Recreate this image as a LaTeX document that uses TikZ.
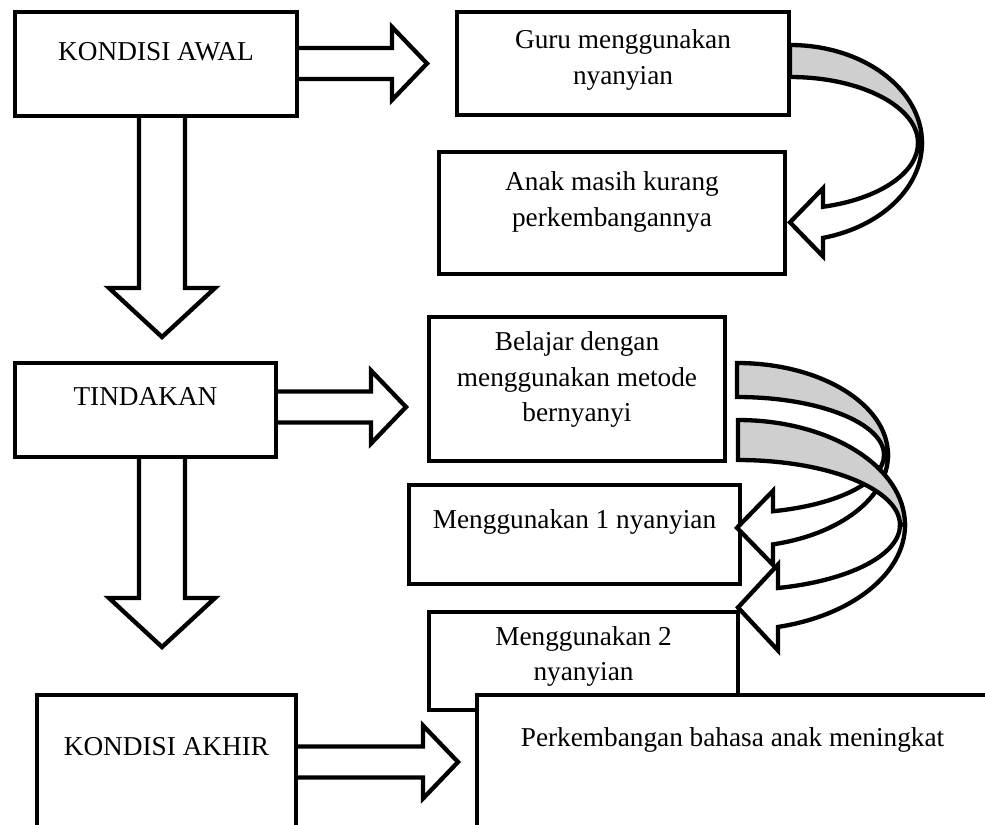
\documentclass[tikz,border=0pt]{standalone}
\usepackage{fontspec}
\setmainfont{Liberation Serif}
\usetikzlibrary{calc}

\def\px{0.44pt}
\definecolor{bandgray}{gray}{0.81}

\tikzset{
  box/.style 2 args={draw, line width=1.9pt, fill=white, minimum width=#1*\px, minimum height=#2*\px, inner sep=0pt},
  lbl/.style={anchor=center, align=center, inner sep=0pt, font=\fontsize{12}{15.6}\selectfont},
  blk/.style={draw, line width=1.9pt, fill=white},
  band/.style={draw, line width=1.9pt, fill=bandgray},
}

% block arrows: from a box to a tip coordinate
\newcommand{\rblock}[2]{%
  \draw[blk] ($(#1.east |- #2)+(0,-15.5)$) -- ($(#2)+(-35,-15.5)$) -- ($(#2)+(-35,-36.5)$) -- (#2)
    -- ($(#2)+(-35,36.5)$) -- ($(#2)+(-35,15.5)$) -- ($(#1.east |- #2)+(0,15.5)$);}
\newcommand{\dblock}[2]{%
  \draw[blk] ($(#1.south -| #2)+(-23,0)$) -- ($(#2)+(-23,-49)$) -- ($(#2)+(-53,-49)$) -- (#2)
    -- ($(#2)+(53,-49)$) -- ($(#2)+(23,-49)$) -- ($(#1.south -| #2)+(23,0)$);}
% curved arrow: centre, outer radii, inner radii, head length, head half width
\newcommand{\curvedarrow}[7]{%
  \pgfmathsetmacro{\angout}{acos(#6/#2)}%
  \pgfmathsetmacro{\angin}{acos(#6/#4)}%
  \pgfmathsetmacro{\yout}{#3*sin(\angout)}%
  \pgfmathsetmacro{\ymid}{(\yout+#5*sin(\angin))/2}%
  \draw[band] ($(#1)+(0,-#3)$) arc[start angle=-90, end angle=0, x radius=#2, y radius=#3]
    -- ($(#1)+(#4,0)$) arc[start angle=0, end angle=-90, x radius=#4, y radius=#5] -- cycle;
  \draw[blk] ($(#1)+(#4,0)$) arc[start angle=0, end angle=\angin, x radius=#4, y radius=#5]
    -- ($(#1)+({#6},{\ymid-#7})$) -- ($(#1)+(0,\ymid)$) -- ($(#1)+({#6},{\ymid+#7})$)
    -- ($(#1)+({#6},\yout)$) arc[start angle=\angout, end angle=0, x radius=#2, y radius=#3] -- cycle;}

\begin{document}
\begin{tikzpicture}[x=0.44pt, y=-0.44pt]
    \useasboundingbox (0,0) rectangle (985,824);
    \clip (0,0) rectangle (985,824);

    \node[box={282}{104}, label={[lbl,yshift=-42*\px]north:KONDISI AWAL}] (awal) at (156,64) {};
    \node[box={332}{103}, label={[lbl,yshift=-50*\px]north:Guru menggunakan\\nyanyian}] (guru) at (623,63.5) {};
    \node[box={346}{122}, label={[lbl,yshift=-52*\px]north:Anak masih kurang\\perkembangannya}] (anak) at (612,213) {};
    \node[box={261}{94}, label={[lbl,yshift=-36*\px]north:TINDAKAN}] (tindakan) at (145.5,410) {};
    \node[box={296}{144}, label={[lbl,yshift=-65*\px]north:Belajar dengan\\menggunakan metode\\bernyanyi}] (belajar) at (577,389) {};
    \node[box={331}{99}, label={[lbl,yshift=-39*\px]north:Menggunakan 1 nyanyian}] (satu) at (574.5,534.5) {};
    \node[box={309}{98}, label={[lbl,yshift=-46.5*\px]north:Menggunakan 2\\nyanyian}] (dua) at (583.5,661) {};
    \node[box={259}{145}, label={[lbl,yshift=-54*\px]north:KONDISI AKHIR}] (akhir) at (166.5,767.5) {};
    \node[box={511}{145}, label={[lbl,yshift=-47*\px]north:Perkembangan bahasa anak meningkat}] (hasil) at (732.5,767.5) {};

    \coordinate (t1) at (427,63.5);
    \coordinate (t2) at (406,407);
    \coordinate (t3) at (458,762);
    \coordinate (d1) at (162,337);
    \coordinate (d2) at (162,647);
    \coordinate (c1) at (790,143);
    \coordinate (c2) at (737,455);
    \coordinate (c3) at (738,525);

    \rblock{awal}{t1}
    \rblock{tindakan}{t2}
    \rblock{akhir}{t3}
    \dblock{awal}{d1}
    \dblock{tindakan}{d2}

    \curvedarrow{c1}{132}{98}{128}{66}{33}{34}
    \curvedarrow{c2}{151}{92}{147}{58}{36}{37}
    \curvedarrow{c3}{167}{105}{162}{65}{40}{43}
\end{tikzpicture}
\end{document}
